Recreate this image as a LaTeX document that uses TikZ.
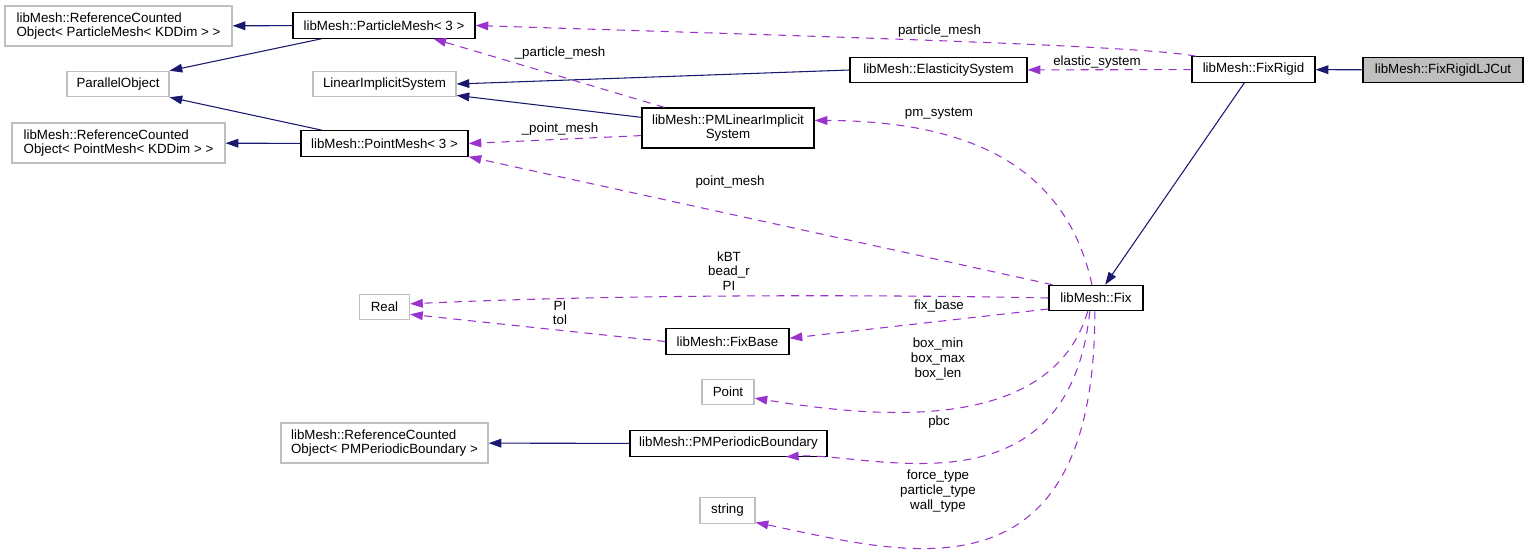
\documentclass[tikz,border=0pt]{standalone}
\usepackage{fontspec}
\setmainfont{Liberation Sans}
\usetikzlibrary{arrows.meta}
\definecolor{edgeblue}{HTML}{191970}
\definecolor{edgepurple}{HTML}{9A32CD}
\definecolor{boxgray}{HTML}{BFBFBF}

\begin{document}
\begin{tikzpicture}[
        x=0.75pt, y=-0.75pt,
        >={Triangle[length=9.5pt,width=6.5pt]},
        font=\fontsize{10}{11}\selectfont,
        cls/.style={
            draw=black,
            line width=0.9pt,
            fill=white,
            minimum height=19pt,
            inner sep=2pt,
            align=center
        },
        ext/.style={cls, draw=boxgray},
        two/.style={minimum height=30pt},
        wd/.style={minimum width=#1*0.75pt},
        inh/.style={->, draw=edgeblue, line width=0.8pt},
        mem/.style={->, draw=edgepurple, line width=0.8pt, dash pattern=on 6pt off 5pt},
        lbl/.style={inner sep=0pt, align=center}
    ]
        \useasboundingbox (0,0) rectangle (1528,553);

        % classes
        \node[ext, two, wd=227, align=left] (rcoPM) at (118.5,26) {libMesh::ReferenceCounted\\Object< ParticleMesh< KDDim > >};
        \node[cls, wd=182] (particle) at (384,25.5) {libMesh::ParticleMesh< 3 >};
        \node[ext, wd=102] (parallel) at (118,84) {ParallelObject};
        \node[ext, wd=143] (linimp) at (384.5,84) {LinearImplicitSystem};
        \node[cls, wd=177] (elastic) at (938.5,70) {libMesh::ElasticitySystem};
        \node[cls, wd=123] (fixrigid) at (1253.5,69.5) {libMesh::FixRigid};
        \node[cls, wd=160, fill=boxgray] (lj) at (1443,70) {libMesh::FixRigidLJCut};
        \node[ext, two, wd=213, align=left] (rcoPoint) at (118.5,143) {libMesh::ReferenceCounted\\Object< PointMesh< KDDim > >};
        \node[cls, wd=167] (pointmesh) at (384.5,143.5) {libMesh::PointMesh< 3 >};
        \node[cls, two, wd=172] (pmlis) at (728,128) {libMesh::PMLinearImplicit\\System};
        \node[ext, wd=50] (real) at (384.5,307) {Real};
        \node[cls, wd=94] (fix) at (1096,298) {libMesh::Fix};
        \node[cls, wd=123] (fixbase) at (727.5,341.5) {libMesh::FixBase};
        \node[ext, wd=52] (point) at (728,392) {Point};
        \node[cls, wd=197] (pmpb) at (728.5,443.5) {libMesh::PMPeriodicBoundary};
        \node[ext, two, wd=207, align=left] (rcoPMPB) at (384.5,443) {libMesh::ReferenceCounted\\Object< PMPeriodicBoundary >};
        \node[ext, wd=55] (string) at (727.5,510.5) {string};

        % inheritance
        \draw[inh] (lj) -- (fixrigid);
        \draw[inh] (fixrigid) -- (fix);
        \draw[inh] (elastic.west) -- (linimp.east);
        \draw[inh] (pmlis.173) -- (linimp.-9);
        \draw[inh] (particle.192) -- (parallel.north east);
        \draw[inh] (pointmesh.168) -- (parallel.south east);
        \draw[inh] (particle) -- (rcoPM);
        \draw[inh] (pointmesh) -- (rcoPoint);
        \draw[inh] (pmpb) -- (rcoPMPB);

        % members
        \draw[mem] (fixrigid) -- (elastic);
        \draw[mem] (fixrigid.167) .. controls (1140,45) and (800,36) .. (particle.east);
        \draw[mem] (pmlis.162) -- (particle.-15);
        \draw[mem] (pmlis.185) -- (pointmesh.east);
        \draw[mem] (fix.107) .. controls (1065,160) and (960,121) .. (pmlis.5);
        \draw[mem] (fix.163) -- (pointmesh.south east);
        \draw[mem] (fix.west) .. controls (850,294) and (600,295) .. (real.7);
        \draw[mem] (fixbase.west) -- (real.-16);
        \draw[mem] (fix.193) -- (fixbase.3);
        \draw[mem] (fix.238) .. controls (1050,440) and (860,415) .. (point.-13);
        \draw[mem] (fix.245) .. controls (1068,520) and (870,452) .. (pmpb.-13);
        \draw[mem] (fix.265) .. controls (1095,612) and (900,552) .. (string.-23);

        % labels
        \node[lbl] (lElastic) at (1097,62) {elastic\_system};
        \node[lbl] (lParticle) at (939.5,31) {particle\_mesh};
        \node[lbl] (lPartPriv) at (560,53) {\_particle\_mesh};
        \node[lbl] (lPointPriv) at (560,129) {\_point\_mesh};
        \node[lbl] (lPmSys) at (939,114) {pm\_system};
        \node[lbl] (lPoint) at (730,182) {point\_mesh};
        \node[lbl] (lReal) at (729,271) {kBT\\bead\_r\\PI};
        \node[lbl] (lTol) at (560,313) {PI\\tol};
        \node[lbl] (lFixBase) at (939,306) {fix\_base};
        \node[lbl] (lBox) at (938,359) {box\_min\\box\_max\\box\_len};
        \node[lbl] (lPbc) at (939,422) {pbc};
        \node[lbl] (lTypes) at (938,491) {force\_type\\particle\_type\\wall\_type};
    \end{tikzpicture}
\end{document}
